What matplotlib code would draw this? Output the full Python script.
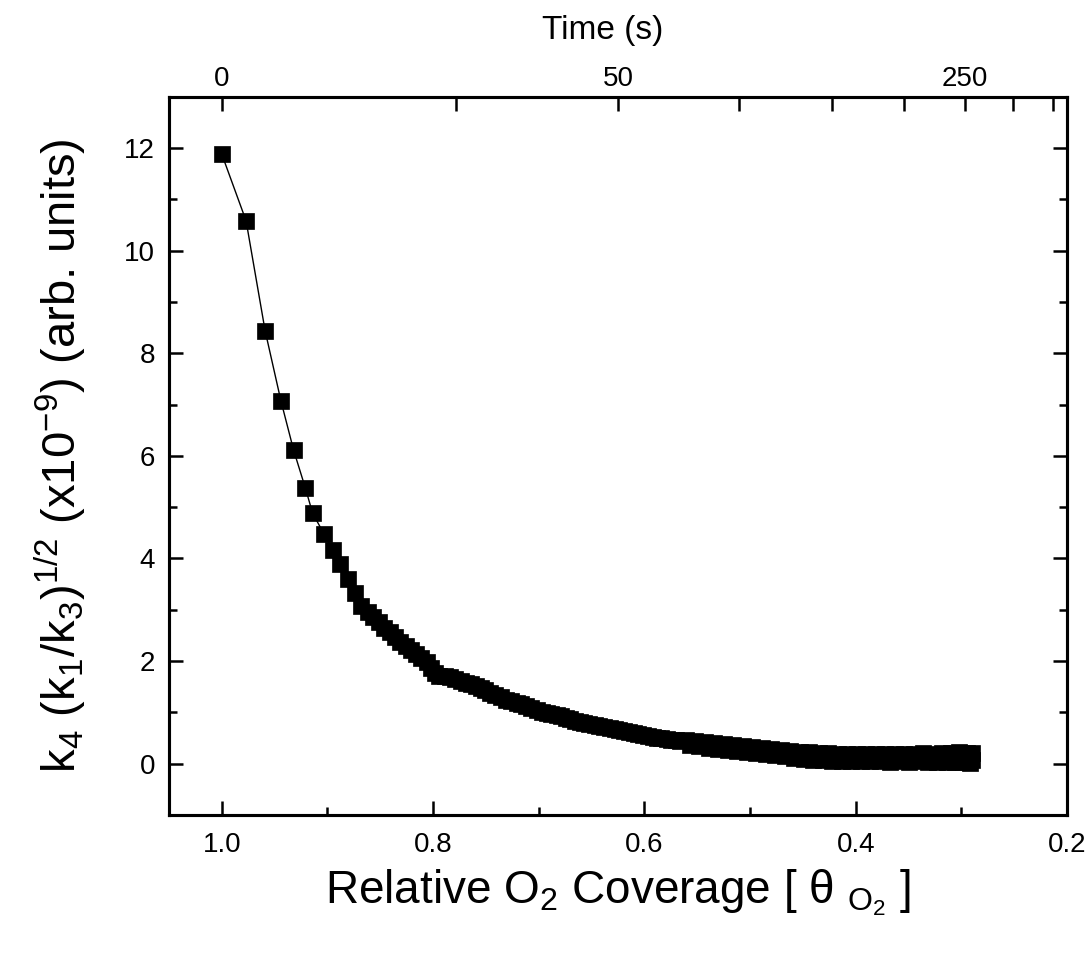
import matplotlib
matplotlib.use('Agg')
import matplotlib.pyplot as plt
from matplotlib.ticker import MultipleLocator, FixedLocator

plt.rcParams['font.family'] = ['Liberation Sans', 'DejaVu Sans']
plt.rcParams['mathtext.default'] = 'regular'
plt.rcParams['mathtext.fontset'] = 'custom'
plt.rcParams['mathtext.rm'] = 'Liberation Sans'

# relative O2 coverage (bottom axis) and k4 (k1/k3)^1/2 values
coverage = [1.000, 0.977, 0.959, 0.944, 0.932, 0.921, 0.914,
            0.903, 0.895, 0.888, 0.881, 0.874, 0.868, 0.862, 0.857, 0.851, 0.846,
            0.841, 0.836, 0.831, 0.826, 0.821, 0.816, 0.811, 0.806, 0.802, 0.798,
            0.794, 0.789, 0.784, 0.779, 0.774, 0.769, 0.764, 0.759, 0.755, 0.751,
            0.746, 0.741, 0.736, 0.731, 0.726, 0.721, 0.717, 0.712, 0.707, 0.702,
            0.697, 0.692, 0.688, 0.683, 0.679, 0.674, 0.670, 0.666, 0.661, 0.657,
            0.652, 0.647, 0.643, 0.638, 0.633, 0.628, 0.624, 0.619, 0.615, 0.610,
            0.606, 0.601, 0.597, 0.592, 0.588, 0.584, 0.579, 0.575, 0.570, 0.566,
            0.561, 0.557, 0.552, 0.548, 0.543, 0.539, 0.534, 0.530, 0.525, 0.521,
            0.516, 0.512, 0.507, 0.503, 0.498, 0.494, 0.489, 0.485, 0.480, 0.476,
            0.471, 0.467, 0.462, 0.458, 0.453, 0.449, 0.444, 0.440, 0.435, 0.431,
            0.426, 0.422, 0.417, 0.413, 0.408, 0.404, 0.399, 0.395, 0.390, 0.386,
            0.381, 0.377, 0.372, 0.368, 0.363, 0.359, 0.354, 0.350, 0.345, 0.341,
            0.336, 0.332, 0.327, 0.323, 0.318, 0.314, 0.310, 0.306, 0.302, 0.298,
            0.295, 0.292, 0.290, 0.290]
k_value = [11.88, 10.58, 8.44, 7.07, 6.11, 5.38, 4.88,
           4.47, 4.17, 3.89, 3.60, 3.33, 3.07, 2.95, 2.85, 2.76, 2.65,
           2.56, 2.47, 2.38, 2.30, 2.21, 2.13, 2.06, 1.98, 1.86, 1.76,
           1.71, 1.70, 1.68, 1.66, 1.62, 1.58, 1.55, 1.52, 1.48, 1.44,
           1.38, 1.33, 1.29, 1.25, 1.22, 1.19, 1.16, 1.12, 1.08, 1.04,
           1.01, 0.99, 0.97, 0.95, 0.93, 0.90, 0.87, 0.84, 0.81, 0.79,
           0.77, 0.75, 0.73, 0.72, 0.70, 0.68, 0.66, 0.64, 0.62, 0.60,
           0.58, 0.56, 0.53, 0.52, 0.51, 0.50, 0.48, 0.47, 0.46, 0.44,
           0.47, 0.37, 0.44, 0.34, 0.42, 0.31, 0.40, 0.29, 0.38, 0.27,
           0.36, 0.24, 0.34, 0.22, 0.32, 0.20, 0.31, 0.18, 0.29, 0.16,
           0.27, 0.14, 0.25, 0.12, 0.23, 0.10, 0.22, 0.08, 0.21, 0.07,
           0.20, 0.06, 0.19, 0.06, 0.18, 0.05, 0.18, 0.05, 0.19, 0.05,
           0.18, 0.05, 0.19, 0.04, 0.18, 0.05, 0.19, 0.04, 0.19, 0.05,
           0.20, 0.04, 0.19, 0.03, 0.21, 0.04, 0.20, 0.03, 0.22, 0.04,
           0.21, 0.02, 0.20, 0.08]

# top axis: time ticks and where they fall on the coverage scale
time_ticks = [0, 25, 50, 100, 150, 200, 250, 300, 350]
time_tick_pos = [1.0, 0.778, 0.625, 0.510, 0.422, 0.354, 0.297, 0.251, 0.213]
time_labeled = [0, 50, 250]

fig = plt.figure(figsize=(10.9, 9.56), dpi=100)
ax = fig.add_axes([0.155, 0.1475, 0.8239, 0.7514])

ax.plot(coverage, k_value, color='black', lw=1.0, marker='s', ms=11.5,
        mec='black', mfc='black', mew=0.5)

ax.set_xlim(1.05, 0.2)
ax.set_ylim(-1, 13)
ax.xaxis.set_major_locator(FixedLocator([1.0, 0.8, 0.6, 0.4, 0.2]))
ax.xaxis.set_minor_locator(FixedLocator([0.9, 0.7, 0.5, 0.3]))
ax.set_xticklabels(['1.0', '0.8', '0.6', '0.4', '0.2'])
ax.yaxis.set_major_locator(MultipleLocator(2))
ax.yaxis.set_minor_locator(MultipleLocator(1))

for s in ax.spines.values():
    s.set_linewidth(2.2)
ax.tick_params(which='both', direction='in', top=False, right=True, width=1.8,
               labelsize=20)
ax.tick_params(which='major', length=10)
ax.tick_params(which='minor', length=5.5)
ax.tick_params(axis='x', which='both', pad=12)
ax.tick_params(axis='y', which='both', pad=10)
# the last tick label sits on the right spine, keep it visible
for lab in ax.get_xticklabels():
    lab.set_clip_on(False)

ax.set_xlabel(r'Relative O$_2$ Coverage [ θ $_{O_2}$ ]', fontsize=33, labelpad=7)
ax.set_ylabel(r'k$_4$ (k$_1$/k$_3$)$^{1/2}$ (x10$^{-9}$) (arb. units)', fontsize=34,
              labelpad=26)

top = ax.twiny()
top.set_xlim(ax.get_xlim())
top.set_xticks(time_tick_pos)
top.set_xticklabels([str(t) if t in time_labeled else '' for t in time_ticks])
top.tick_params(direction='in', length=10, width=1.8, labelsize=20, pad=3)
for s in top.spines.values():
    s.set_linewidth(2.2)
fig.text(603 / 1090, 1 - 30 / 956, 'Time (s)', fontsize=24, ha='center', va='center')

fig.savefig('out.png', dpi=100)
